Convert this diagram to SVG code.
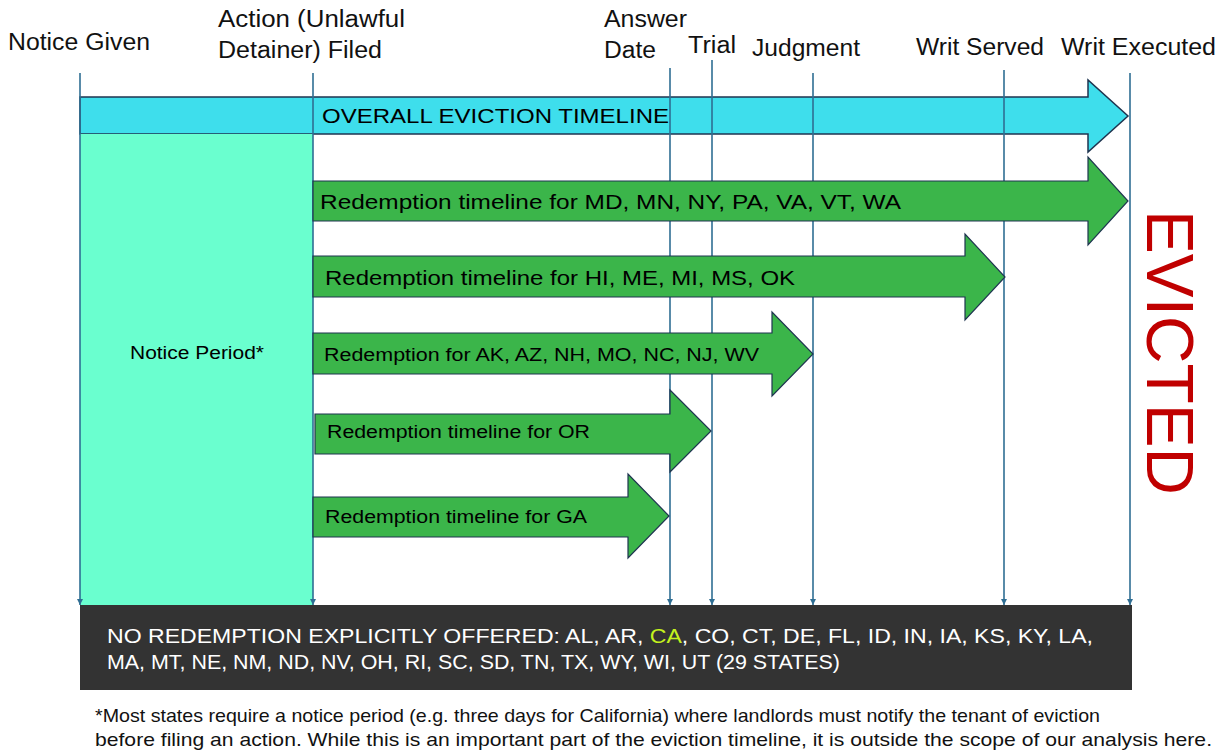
<svg xmlns="http://www.w3.org/2000/svg" width="1226" height="751" viewBox="0 0 1226 751">
<style>
  .lbl{font-family:"Liberation Sans",Arial,sans-serif;font-size:23px;fill:#111;}
  .atxt{font-family:"Liberation Sans",Arial,sans-serif;fill:#000;}
  .green{fill:#3bb54a;stroke:#1f3550;stroke-width:1.2;}
  .cyan{fill:#3edeec;stroke:#1f3550;stroke-width:1.5;}
  .vline{stroke:#2f6e93;stroke-width:1.6;fill:none;marker-end:url(#ah);}
  .box{font-family:"Liberation Sans",Arial,sans-serif;font-size:20px;fill:#fff;}
  .foot{font-family:"Liberation Sans",Arial,sans-serif;font-size:19px;fill:#111;}
</style>
<defs>
  <marker id="ah" viewBox="0 0 10 10" refX="10" refY="5" markerWidth="6" markerHeight="6" markerUnits="userSpaceOnUse" orient="auto">
    <path d="M0,0 L10,5 L0,10 z" fill="#2f6e93"/>
  </marker>
</defs>
<rect width="1226" height="751" fill="#fff"/>

<g id="labels">
  <text class="lbl" x="8" y="50" textLength="142" lengthAdjust="spacingAndGlyphs">Notice Given</text>
  <text class="lbl" x="218" y="27" textLength="187" lengthAdjust="spacingAndGlyphs">Action (Unlawful</text>
  <text class="lbl" x="218" y="58" textLength="164" lengthAdjust="spacingAndGlyphs">Detainer) Filed</text>
  <text class="lbl" x="604" y="27" textLength="83" lengthAdjust="spacingAndGlyphs">Answer</text>
  <text class="lbl" x="604" y="58" textLength="52" lengthAdjust="spacingAndGlyphs">Date</text>
  <text class="lbl" x="688" y="53" textLength="48" lengthAdjust="spacingAndGlyphs">Trial</text>
  <text class="lbl" x="752" y="56" textLength="108" lengthAdjust="spacingAndGlyphs">Judgment</text>
  <text class="lbl" x="916" y="55" textLength="128" lengthAdjust="spacingAndGlyphs">Writ Served</text>
  <text class="lbl" x="1061" y="55" textLength="155" lengthAdjust="spacingAndGlyphs">Writ Executed</text>
</g>

<g id="overall">
  <path class="cyan" d="M80,97 H1088 V80 L1128,116 L1088,152 V134 H80 Z"/>
  <text class="atxt" x="322" y="123" font-size="21" textLength="347" lengthAdjust="spacingAndGlyphs">OVERALL EVICTION TIMELINE</text>
</g>

<g id="notice-period">
  <rect x="80" y="134" width="233" height="471" fill="#6affcf"/>
  <text class="atxt" x="130" y="359" font-size="18" textLength="134" lengthAdjust="spacingAndGlyphs">Notice Period*</text>
</g>

<g id="connectors">
  <line class="vline" x1="80" y1="73" x2="80" y2="605"/>
  <line class="vline" x1="313" y1="73" x2="313" y2="605"/>
  <line class="vline" x1="670" y1="68" x2="670" y2="605"/>
  <line class="vline" x1="712" y1="60" x2="712" y2="605"/>
  <line class="vline" x1="813" y1="73" x2="813" y2="605"/>
  <line class="vline" x1="1004" y1="70" x2="1004" y2="605"/>
  <line class="vline" x1="1130" y1="73" x2="1130" y2="605"/>
</g>

<g id="arrow-md">
  <path class="green" d="M313,181 H1088 V157 L1128,201 L1088,245 V221 H313 Z"/>
  <text class="atxt" x="320" y="209" font-size="21" textLength="581" lengthAdjust="spacingAndGlyphs">Redemption timeline for MD, MN, NY, PA, VA, VT, WA</text>
</g>
<g id="arrow-hi">
  <path class="green" d="M313,256 H965 V234 L1005,277 L965,320 V297 H313 Z"/>
  <text class="atxt" x="325" y="285" font-size="21" textLength="470" lengthAdjust="spacingAndGlyphs">Redemption timeline for HI, ME, MI, MS, OK</text>
</g>
<g id="arrow-ak">
  <path class="green" d="M313,333 H772 V312 L813,354 L772,396 V374 H313 Z"/>
  <text class="atxt" x="324" y="361" font-size="18" textLength="435" lengthAdjust="spacingAndGlyphs">Redemption for AK, AZ, NH, MO, NC, NJ, WV</text>
</g>
<g id="arrow-or">
  <path class="green" d="M315,414 H670 V390 L711,431 L670,472 V454 H315 Z"/>
  <text class="atxt" x="327" y="438" font-size="18" textLength="263" lengthAdjust="spacingAndGlyphs">Redemption timeline for OR</text>
</g>
<g id="arrow-ga">
  <path class="green" d="M313,497 H628 V474 L669,516 L628,558 V537 H313 Z"/>
  <text class="atxt" x="325" y="523" font-size="18" textLength="262" lengthAdjust="spacingAndGlyphs">Redemption timeline for GA</text>
</g>

<g id="evicted">
  <text transform="translate(1147,210) rotate(90)" x="0" y="0" font-family="Liberation Sans, Arial, sans-serif" font-size="66" fill="#c00000" textLength="285" lengthAdjust="spacingAndGlyphs">EVICTED</text>
</g>

<g id="no-redemption">
  <rect x="80" y="605" width="1052" height="85" fill="#333333"/>
  <text class="box" x="107" y="643" textLength="986" lengthAdjust="spacingAndGlyphs">NO REDEMPTION EXPLICITLY OFFERED: AL, AR, <tspan fill="#c3f21e">CA</tspan>, CO, CT, DE, FL, ID, IN, IA, KS, KY, LA,</text>
  <text class="box" x="107" y="669" textLength="733" lengthAdjust="spacingAndGlyphs">MA, MT, NE, NM, ND, NV, OH, RI, SC, SD, TN, TX, WY, WI, UT (29 STATES)</text>
</g>

<g id="footnote">
  <text class="foot" x="95" y="722" textLength="1005" lengthAdjust="spacingAndGlyphs">*Most states require a notice period (e.g. three days for California) where landlords must notify the tenant of eviction</text>
  <text class="foot" x="95" y="746" textLength="1117" lengthAdjust="spacingAndGlyphs">before filing an action. While this is an important part of the eviction timeline, it is outside the scope of our analysis here.</text>
</g>
</svg>
